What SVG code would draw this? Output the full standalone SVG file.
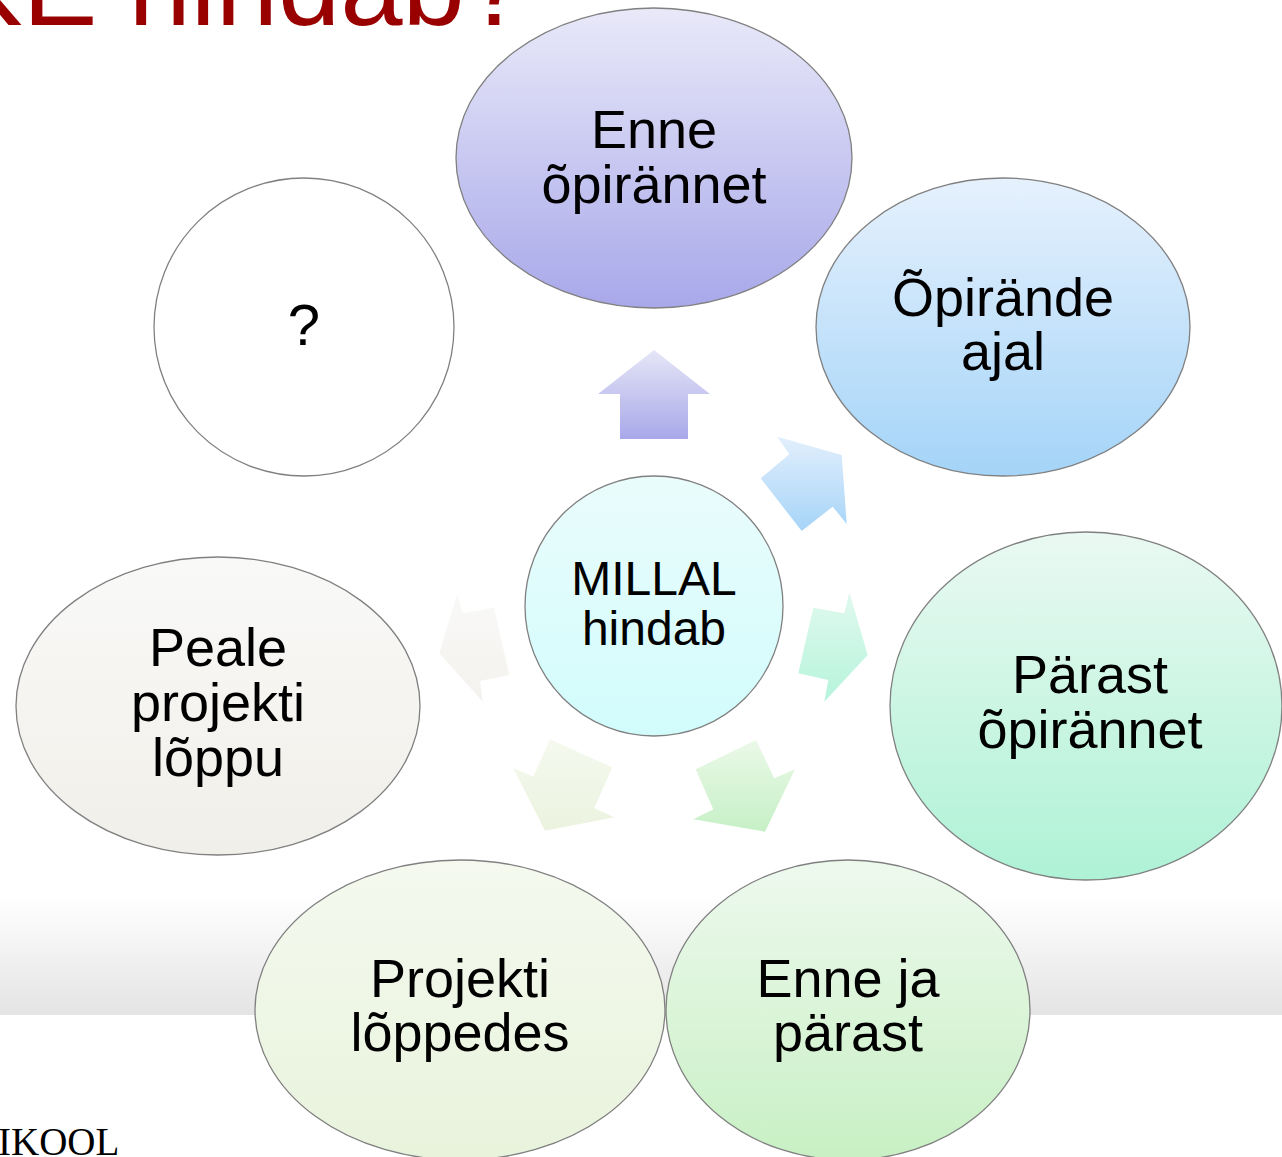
<svg xmlns="http://www.w3.org/2000/svg" width="1282" height="1157" viewBox="0 0 1282 1157">
<defs>
<linearGradient id="band" x1="0" y1="0" x2="0" y2="1"><stop offset="0" stop-color="#ffffff"/><stop offset="1" stop-color="#e4e4e4"/></linearGradient>
<linearGradient id="g1" x1="0" y1="0" x2="0" y2="1"><stop offset="0" stop-color="#e9e9f9"/><stop offset="1" stop-color="#a8a8ea"/></linearGradient>
<linearGradient id="g2" x1="0" y1="0" x2="0" y2="1"><stop offset="0" stop-color="#e6f1fd"/><stop offset="1" stop-color="#a4d4f8"/></linearGradient>
<linearGradient id="g3" x1="0" y1="0" x2="0" y2="1"><stop offset="0" stop-color="#eaf9f2"/><stop offset="1" stop-color="#aef2d6"/></linearGradient>
<linearGradient id="g4" x1="0" y1="0" x2="0" y2="1"><stop offset="0" stop-color="#eef9ee"/><stop offset="1" stop-color="#c8f0c4"/></linearGradient>
<linearGradient id="g5" x1="0" y1="0" x2="0" y2="1"><stop offset="0" stop-color="#f5f9ef"/><stop offset="1" stop-color="#e8f3dc"/></linearGradient>
<linearGradient id="g6" x1="0" y1="0" x2="0" y2="1"><stop offset="0" stop-color="#f9f9f8"/><stop offset="1" stop-color="#f1efe9"/></linearGradient>
<linearGradient id="gc" x1="0" y1="0" x2="0" y2="1"><stop offset="0" stop-color="#eafcfc"/><stop offset="1" stop-color="#d2fcfc"/></linearGradient>
<linearGradient id="a1" x1="0" y1="0" x2="0" y2="1"><stop offset="0" stop-color="#e6e6f7"/><stop offset="1" stop-color="#a8a8ea"/></linearGradient>
<linearGradient id="a2" x1="0" y1="0" x2="0" y2="1"><stop offset="0" stop-color="#e2effc"/><stop offset="1" stop-color="#a6d4f8"/></linearGradient>
<linearGradient id="a3" x1="0" y1="0" x2="0" y2="1"><stop offset="0" stop-color="#e0f9ee"/><stop offset="1" stop-color="#b6f4dc"/></linearGradient>
<linearGradient id="a4" x1="0" y1="0" x2="0" y2="1"><stop offset="0" stop-color="#ebf9e8"/><stop offset="1" stop-color="#c6f0c6"/></linearGradient>
<linearGradient id="a5" x1="0" y1="0" x2="0" y2="1"><stop offset="0" stop-color="#f5f9ef"/><stop offset="1" stop-color="#ebf3df"/></linearGradient>
<linearGradient id="a6" x1="0" y1="0" x2="0" y2="1"><stop offset="0" stop-color="#f9f9f8"/><stop offset="1" stop-color="#f4f2ee"/></linearGradient>
</defs>
<style>
.node{stroke:#808080;stroke-width:1.3}
.lbl{font-family:"Liberation Sans",Arial,sans-serif;font-size:54px;fill:#000;text-anchor:middle}
.ctr{font-size:48px}
</style>
<rect x="0" y="0" width="1282" height="1157" fill="#ffffff"/>
<rect x="0" y="895" width="1282" height="120" fill="url(#band)"/>
<text x="-52" y="25" font-family="'Liberation Sans',Arial,sans-serif" font-size="112" fill="#990000">KE hindab?</text>
<text x="-2" y="1155" font-family="'Liberation Serif','Times New Roman',serif" font-size="39" fill="#000">IKOOL</text>

<g id="connectors">
<polygon points="654,350 710,394 688,394 688,439 620,439 620,394 598,394" fill="url(#a1)"/>
<polygon points="777.3,436.7 841.7,455 846.7,524 832.7,506.7 801.7,531 760.7,478.3 789.3,454.3" fill="url(#a2)"/>
<polygon points="849.3,592.3 867.7,655 824.3,701.7 828.3,680 798.3,673.3 813.3,607.7 844.3,613.3" fill="url(#a3)"/>
<polygon points="756,740 774.3,778.3 795,769.3 765,831.7 693.3,819.3 713.3,809.3 695.7,769.3" fill="url(#a4)"/>
<polygon points="550,739.3 612.3,767.3 594.3,808.3 614.3,817.3 545,830.7 513.3,768.3 533.3,776.7" fill="url(#a5)"/>
<polygon points="457.3,593.3 462.7,613.3 494,607.7 509.3,675 480,681 482.7,701.7 439.3,653.3" fill="url(#a6)"/>
</g>

<g id="node-center">
<ellipse class="node" cx="654" cy="606" rx="129" ry="130" fill="url(#gc)"/>
<text class="lbl ctr" x="654" y="595">MILLAL</text>
<text class="lbl ctr" x="654" y="645">hindab</text>
</g>
<g id="node-enne-opirannet">
<ellipse class="node" cx="654" cy="158" rx="198" ry="150" fill="url(#g1)"/>
<text class="lbl" x="654" y="148">Enne</text>
<text class="lbl" x="654" y="203">õpirännet</text>
</g>
<g id="node-opirande-ajal">
<ellipse class="node" cx="1003" cy="327" rx="187" ry="149" fill="url(#g2)"/>
<text class="lbl" x="1003" y="316">Õpirände</text>
<text class="lbl" x="1003" y="370">ajal</text>
</g>
<g id="node-parast-opirannet">
<ellipse class="node" cx="1086" cy="706" rx="196" ry="174" fill="url(#g3)"/>
<text class="lbl" x="1090" y="693">Pärast</text>
<text class="lbl" x="1090" y="748">õpirännet</text>
</g>
<g id="node-enne-ja-parast">
<ellipse class="node" cx="848" cy="1010" rx="182" ry="150" fill="url(#g4)"/>
<text class="lbl" x="848" y="997">Enne ja</text>
<text class="lbl" x="848" y="1051">pärast</text>
</g>
<g id="node-projekti-loppedes">
<ellipse class="node" cx="460" cy="1010" rx="205" ry="150" fill="url(#g5)"/>
<text class="lbl" x="460" y="997">Projekti</text>
<text class="lbl" x="460" y="1051">lõppedes</text>
</g>
<g id="node-peale-projekti">
<ellipse class="node" cx="218" cy="706" rx="202" ry="149" fill="url(#g6)"/>
<text class="lbl" x="218" y="666">Peale</text>
<text class="lbl" x="218" y="721">projekti</text>
<text class="lbl" x="218" y="776">lõppu</text>
</g>
<g id="node-question">
<ellipse class="node" cx="304" cy="327" rx="150" ry="149" fill="#ffffff"/>
<text class="lbl" x="304" y="345" style="font-size:58px">?</text>
</g>
</svg>
